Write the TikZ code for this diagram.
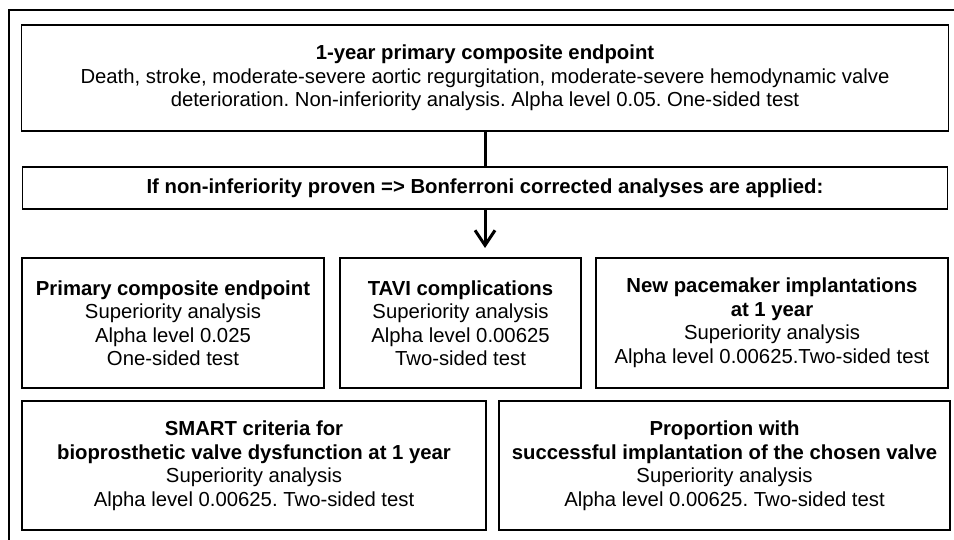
\documentclass[tikz,border=0pt]{standalone}
\usepackage{fontspec}
\setmainfont{Liberation Sans}
\usetikzlibrary{arrows.meta}
\frenchspacing

\tikzset{
  box/.style={draw, line width=1.3pt, inner sep=0pt, align=center,
    font=\fontsize{20.3}{23.5}\selectfont},
  flow/.style={line width=3pt},
}

\begin{document}
\begin{tikzpicture}[x=1pt, y=-1pt]
\clip (0,0) rectangle (954,540);
\fill[white] (0,0) rectangle (954,540);
% outer frame, cut off on the right and at the bottom
\draw[line width=1.3pt] (9,560) -- (9,10) -- (980,10);

\node[box, minimum width=927, minimum height=106] (top) at (485,78)
  {\textbf{1-year primary composite endpoint}\\
   Death, stroke, moderate-severe aortic regurgitation, moderate-severe hemodynamic valve\\
   deterioration. Non-inferiority analysis. Alpha level 0.05. One-sided test};
\node[box, minimum width=925, minimum height=42] (bonf) at (485,188)
  {\textbf{If non-inferiority proven => Bonferroni corrected analyses are applied:}};
\coordinate (tip) at (485,248);

\node[box, minimum width=302, minimum height=130] (prim) at (173,323)
  {\textbf{Primary composite endpoint}\\ Superiority analysis\\ Alpha level 0.025\\ One-sided test};
\node[box, minimum width=241, minimum height=130] (tavi) at (460.5,323)
  {\textbf{TAVI complications}\\ Superiority analysis\\ Alpha level 0.00625\\ Two-sided test};
\node[box, minimum width=352, minimum height=130] (pace) at (772,323)
  {\textbf{New pacemaker implantations}\\ \textbf{at 1 year}\\ Superiority analysis\\ Alpha level 0.00625.Two-sided test};

\node[box, minimum width=464, minimum height=129] (smart) at (254,465.5)
  {\textbf{SMART criteria for}\\ \textbf{bioprosthetic valve dysfunction at 1 year}\\ Superiority analysis\\ Alpha level 0.00625. Two-sided test};
\node[box, minimum width=451, minimum height=129] (valve) at (724.5,465.5)
  {\textbf{Proportion with}\\ \textbf{successful implantation of the chosen valve}\\ Superiority analysis\\ Alpha level 0.00625. Two-sided test};

\draw[flow] (top.south) -- (bonf.north);
\draw[flow, -{Straight Barb[length=15pt, width=20pt, line width=3pt]}] (bonf.south) -- (tip);
\end{tikzpicture}
\end{document}
